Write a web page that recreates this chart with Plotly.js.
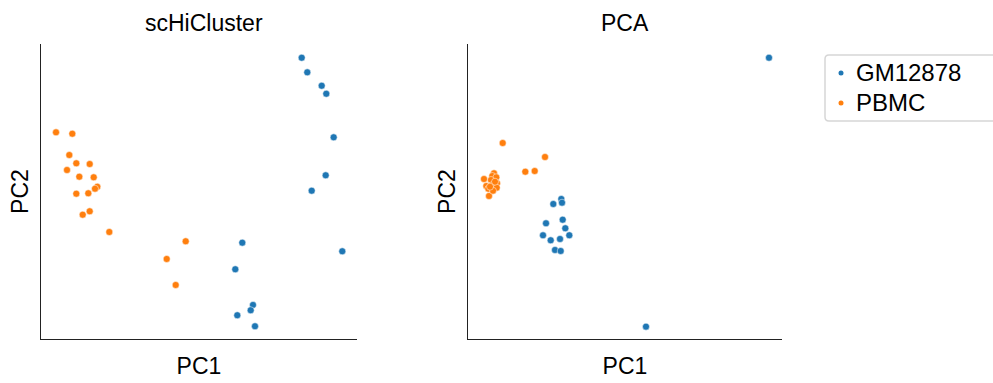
<!DOCTYPE html>
<html>
<head>
<meta charset="utf-8">
<script src="https://cdn.plot.ly/plotly-3.0.1.min.js"></script>
<style>html,body{margin:0;padding:0;background:#fff;}#chart{width:993px;height:383px;}</style>
</head>
<body>
<div id="chart"></div>
<script>
// scHiCluster embedding (arbitrary units)
const sc_gm_x = [301.7, 307.3, 321.7, 326.3, 333.7, 325.7, 311.7, 342.3, 242.3, 235.3, 253.0, 250.7, 237.3, 255.0];
const sc_gm_y = [281.3, 266.7, 253.3, 245.3, 201.7, 163.7, 148.3, 87.7, 96.3, 69.7, 34.0, 28.7, 23.7, 12.7];
const sc_pb_x = [56.0, 72.3, 69.3, 76.3, 89.7, 67.0, 79.3, 93.7, 97.3, 95.0, 76.3, 88.3, 89.7, 82.7, 109.3, 185.7, 166.7, 175.7];
const sc_pb_y = [206.7, 205.3, 184.0, 175.7, 175.0, 169.0, 162.3, 161.7, 152.3, 150.3, 145.3, 145.7, 127.7, 124.3, 107.0, 97.7, 80.0, 54.0];
// PCA embedding (arbitrary units)
const pca_gm_x = [769.0, 646.0, 561.3, 562.0, 553.3, 546.0, 562.7, 565.3, 543.0, 569.3, 550.7, 560.0, 555.0, 560.7];
const pca_gm_y = [281.3, 12.3, 140.0, 136.3, 135.0, 115.7, 119.3, 110.7, 103.7, 103.7, 98.7, 100.0, 89.0, 88.0];
const pca_pb_x = [502.7, 545.0, 525.3, 534.7, 484.0, 489.0, 494.0, 492.3, 496.3, 491.0, 497.0, 486.3, 491.7, 496.7, 488.3, 493.0, 495.0, 490.0];
const pca_pb_y = [196.0, 182.0, 167.3, 168.0, 160.0, 143.0, 165.7, 163.0, 161.7, 159.0, 155.7, 153.0, 153.7, 151.3, 150.3, 148.3, 157.3, 152.3];

const groups = ["GM12878", "PBMC"];
const colors = ["#1f77b4", "#ff7f0e"];
const panelTitles = ["scHiCluster", "PCA"];

const W = 993, H = 383;
const px = v => v / W, py = v => 1 - v / H;

function pts(x, y, c, xa, ya) {
  return {type: "scatter", mode: "markers", x: x, y: y, xaxis: xa, yaxis: ya,
    showlegend: false, hoverinfo: "skip",
    marker: {color: c, size: 7, line: {color: "#ffffff", width: 0.5}}};
}
const data = [
  pts(sc_gm_x, sc_gm_y, colors[0], "x", "y"),
  pts(sc_pb_x, sc_pb_y, colors[1], "x", "y"),
  pts(pca_gm_x, pca_gm_y, colors[0], "x2", "y2"),
  pts(pca_pb_x, pca_pb_y, colors[1], "x2", "y2"),
];

const fam = "Liberation Sans, Arial, sans-serif";
const font = {family: fam, size: 23, color: "#000"};
const ax = (dom, rng, title, anchor, standoff) => ({domain: dom, range: rng, anchor: anchor,
  showgrid: false, zeroline: false, showticklabels: false, ticks: "",
  showline: true, linecolor: "#222", linewidth: 1.3,
  title: {text: title, font: font, standoff: standoff}});

// legend drawn manually (box, markers, labels)
const shapes = [{type: "path", xref: "paper", yref: "paper",
  path: `M ${px(1005)} ${py(55)} L ${px(829)} ${py(55)} Q ${px(825)} ${py(55)} ${px(825)} ${py(59)} L ${px(825)} ${py(117)} Q ${px(825)} ${py(121)} ${px(829)} ${py(121)} L ${px(1005)} ${py(121)}`,
  line: {color: "#d6d6d6", width: 1.5}, fillcolor: "rgba(0,0,0,0)"}];
const annotations = [
  {text: panelTitles[0], xref: "paper", yref: "paper", x: px(204), y: py(23), xanchor: "center", yanchor: "middle", showarrow: false, font: font},
  {text: panelTitles[1], xref: "paper", yref: "paper", x: px(625), y: py(23), xanchor: "center", yanchor: "middle", showarrow: false, font: font}
];
groups.forEach((g, i) => {
  const yc = 73 + i * 30;
  shapes.push({type: "circle", xref: "paper", yref: "paper",
    x0: px(838.5), x1: px(843.5), y0: py(yc - 2.5), y1: py(yc + 2.5),
    fillcolor: colors[i], line: {width: 0}});
  annotations.push({text: g, xref: "paper", yref: "paper", x: px(854), y: py(yc - 1),
    xanchor: "left", yanchor: "middle", showarrow: false, font: {family: fam, size: 24, color: "#000"}});
});

const layout = {
  width: W, height: H,
  margin: {l: 0, r: 0, t: 0, b: 0},
  paper_bgcolor: "#fff", plot_bgcolor: "#fff",
  font: font, showlegend: false,
  xaxis: ax([0.0413, 0.3595], [41, 357], "PC1", "y", 18),
  yaxis: ax([0.115, 0.885], [0, 295], "PC2", "x", 4),
  xaxis2: ax([0.4713, 0.7875], [468, 782], "PC1", "y2", 18),
  yaxis2: ax([0.115, 0.885], [0, 295], "PC2", "x2", 4),
  shapes: shapes,
  annotations: annotations
};
Plotly.newPlot("chart", data, layout, {staticPlot: true, displayModeBar: false});
</script>
</body>
</html>
